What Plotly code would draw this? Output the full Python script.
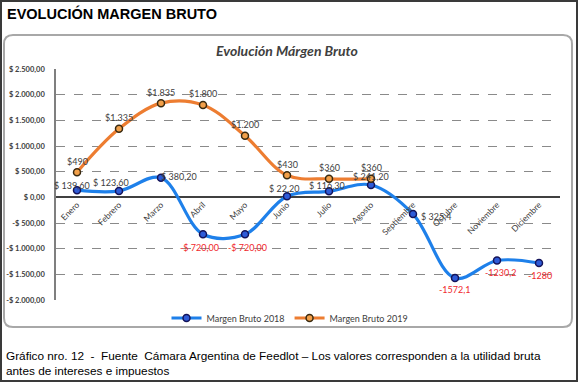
import plotly.graph_objects as go

months = ["Enero", "Febrero", "Marzo", "Abril", "Mayo", "Junio", "Julio",
          "Agosto", "Septiembre", "Octubre", "Noviembre", "Diciembre"]
margen_2018 = [139.60, 123.60, 380.20, -720.00, -720.00, 22.20, 116.30,
               241.20, -325.40, -1572.10, -1230.20, -1280.00]
labels_2018 = ["$ 139,60", "$ 123,60", "$ 380,20", "-$ 720,00", "-$ 720,00",
               "$ 22,20", "$ 116,30", "$ 241,20", "$ 325,4", "-1572,1",
               "-1230,2", "-1280"]
margen_2019 = [490, 1335, 1835, 1800, 1200, 430, 360, 360]
labels_2019 = ["$490", "$1.335", "$1.835", "$1.800", "$1.200", "$430", "$360", "$360"]
ytick_vals = [2500, 2000, 1500, 1000, 500, 0, -500, -1000, -1500, -2000]
ytick_text = ["$ 2.500,00", "$ 2.000,00", "$ 1.500,00", "$ 1.000,00", "$ 500,00",
              "$ 0,00", "-$ 500,00", "-$ 1.000,00", "-$ 1.500,00", "-$ 2.000,00"]

W, H = 578, 382
L, R, T, B = 56, 560, 69, 300  # plot area in px


def px(x):
    return (x - L) / (R - L)


def py(y):
    return (B - y) / (B - T)


BLUE = "#1E80EA"
ORANGE = "#ED7D31"
FONT = "Lato"
GRAY = "#404040"
RED = "#F0282D"

fig = go.Figure()
fig.add_trace(go.Scatter(
    x=months, y=margen_2018, name="Margen Bruto 2018", mode="lines+markers",
    line=dict(color=BLUE, width=3.2, shape="spline", smoothing=1),
    marker=dict(size=7, color="#2F5BD8", line=dict(color="#14145A", width=1.5)),
))
fig.add_trace(go.Scatter(
    x=months[:len(margen_2019)], y=margen_2019, name="Margen Bruto 2019",
    mode="lines+markers",
    line=dict(color=ORANGE, width=3.2, shape="spline", smoothing=1),
    marker=dict(size=7, color="#F2A04A", line=dict(color="#3A2A10", width=1.5)),
))

# data labels (offsets in px)
off_2018 = [(-5, 5, "center"), (-8, 8, "center"), (-2, 1, "left"), (-4, -13, "center"),
            (2, -13, "center"), (-3, 8, "center"), (-2, 6, "center"), (0, 8, "center"),
            (6, -2, "left"), (0, -11, "center"), (4, -12, "center"), (1, -12, "center")]
annotations = []
for m, v, t, (dx, dy, xa) in zip(months, margen_2018, labels_2018, off_2018):
    col = RED if t.startswith("-") else GRAY
    annotations.append(dict(x=m, y=v, text=t, showarrow=False, xshift=dx, yshift=dy,
                            xanchor=xa, yanchor="middle",
                            font=dict(family=FONT, size=9, color=col)))
for m, v, t in zip(months, margen_2019, labels_2019):
    annotations.append(dict(x=m, y=v, text=t, showarrow=False, yshift=11,
                            xanchor="center", yanchor="middle",
                            font=dict(family=FONT, size=9, color=GRAY)))

annotations.append(dict(xref="paper", yref="paper", x=px(287), y=py(50),
                        xanchor="center", yanchor="middle",
                        text="<b><i>Evolución Márgen Bruto</i></b>", showarrow=False,
                        font=dict(family=FONT, size=14, color=GRAY)))
annotations.append(dict(xref="paper", yref="paper", x=px(5), y=py(14), xanchor="left",
                        yanchor="middle",
                        text="<b>EVOLUCIÓN MARGEN BRUTO</b>", showarrow=False,
                        font=dict(family="Liberation Sans", size=14.5, color="black")))
annotations.append(dict(xref="paper", yref="paper", x=px(4), y=py(363), xanchor="left",
                        yanchor="middle", align="left", showarrow=False,
                        text="Gráfico nro. 12  -  Fuente  Cámara Argentina de Feedlot – Los valores corresponden a la utilidad bruta<br>antes de intereses e impuestos",
                        font=dict(family="Liberation Sans", size=11.8, color="black")))

# panel with rounded corners
x0, y0, x1, y1, r = 4, 35, 572, 327, 9
path = (f"M {px(x0 + r)},{py(y0)} L {px(x1 - r)},{py(y0)} Q {px(x1)},{py(y0)} {px(x1)},{py(y0 + r)} "
        f"L {px(x1)},{py(y1 - r)} Q {px(x1)},{py(y1)} {px(x1 - r)},{py(y1)} "
        f"L {px(x0 + r)},{py(y1)} Q {px(x0)},{py(y1)} {px(x0)},{py(y1 - r)} "
        f"L {px(x0)},{py(y0 + r)} Q {px(x0)},{py(y0)} {px(x0 + r)},{py(y0)} Z")
shapes = [
    dict(type="rect", xref="paper", yref="paper", x0=px(1), y0=py(1), x1=px(577), y1=py(381),
         line=dict(color="#3A3A3A", width=2), layer="below"),
    dict(type="path", xref="paper", yref="paper", path=path,
         line=dict(color="#A8A8A8", width=2), layer="below"),
]

fig.update_layout(
    width=W, height=H,
    margin=dict(l=L, r=W - R, t=T, b=H - B, autoexpand=False),
    paper_bgcolor="white", plot_bgcolor="white",
    showlegend=True,
    legend=dict(orientation="h", x=px(290), xanchor="center", y=py(318), yanchor="middle",
                font=dict(family=FONT, size=9, color=GRAY),
                tracegroupgap=0, bgcolor="rgba(0,0,0,0)"),
    annotations=annotations, shapes=shapes,
    xaxis=dict(type="category", range=[-0.5, 11.5], anchor="free", position=2000 / 4500,
               tickangle=-45, showgrid=False, showline=False, ticks="", automargin=False,
               tickfont=dict(family=FONT, size=8.5, color=GRAY)),
    yaxis=dict(range=[-2000, 2500], tickvals=ytick_vals,
               ticktext=[f"<b>{t}</b>" for t in ytick_text],
               showgrid=True, gridcolor="#8A8A8A", griddash="dash", gridwidth=1,
               zeroline=True, zerolinecolor="#404040", zerolinewidth=1.6,
               showline=True, linecolor="#7F7F7F", linewidth=1.5, ticks="",
               ticklabelstandoff=8, automargin=False,
               tickfont=dict(family=FONT, size=7.5, color=GRAY)),
)

fig.write_html("out.html", config={"displayModeBar": False},
               post_script="document.body.style.margin='0';")
